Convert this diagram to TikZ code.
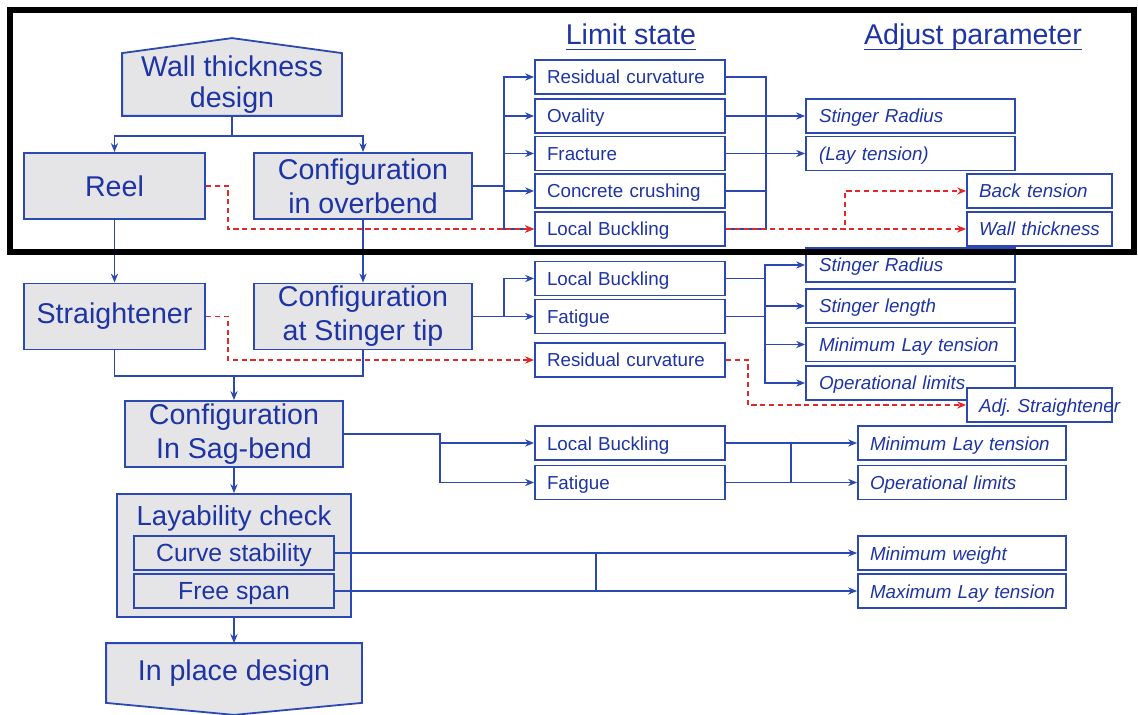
\documentclass[tikz,border=0pt]{standalone}
\usepackage{fontspec}
\setmainfont{Liberation Sans}
\usetikzlibrary{arrows.meta,backgrounds}

\definecolor{txtblue}{RGB}{30,52,165}
\definecolor{edgeblue}{RGB}{44,72,178}
\definecolor{boxgrey}{RGB}{229,229,231}
\definecolor{flagred}{RGB}{228,40,40}

\newcommand{\stagefont}{\fontsize{14.3}{17}\selectfont}
\newcommand{\limitfont}{\fontsize{9.4}{11}\selectfont}
\newcommand{\ulined}[1]{\setbox0\hbox{#1}\rlap{\rule[-2.6pt]{\wd0}{0.7pt}}\box0}

\begin{document}
\begin{tikzpicture}[x=0.5pt, y=-0.5pt, >={Stealth[length=4.5pt,width=3.6pt]},
        stage/.style={rectangle, draw=edgeblue, fill=boxgrey, line width=0.9pt, text=txtblue, font=\stagefont, align=center, minimum width=109pt, minimum height=33pt, inner sep=1pt},
        pentagon/.style={draw=edgeblue, fill=boxgrey, line width=0.9pt},
        check/.style={stage, font=\fontsize{12.4}{14}\selectfont, minimum width=100pt, minimum height=17pt, text height=9.8pt, text depth=1pt},
        limit/.style={rectangle, draw=edgeblue, fill=white, line width=0.9pt, text=txtblue, font=\limitfont, text width=83pt, align=left, inner xsep=6pt, inner ysep=1pt, text height=8pt, text depth=1pt, minimum height=17pt},
        param/.style={limit, font=\limitfont\itshape, text width=91.5pt, inner xsep=6.5pt},
        lowparam/.style={limit, font=\limitfont\itshape, text width=92pt, inner xsep=6pt},
        shortparam/.style={limit, font=\limitfont\itshape, text width=60.5pt},
        heading/.style={text=txtblue, font=\stagefont, anchor=base},
        wire/.style={draw=edgeblue, line width=0.9pt},
        arrow/.style={wire, ->},
        redarrow/.style={->, draw=flagred, line width=0.9pt, dash pattern=on 2.6pt off 1.8pt}]

    \useasboundingbox (0,0) rectangle (1138,715);

    % Headings
    \node[heading] (hlimit) at (631,45) {\ulined{Limit state}};
    \node[heading] (hadjust) at (973,45) {\ulined{Adjust parameter}};

    % Design stages
    \node[stage, draw=none, fill=none, minimum height=30.5pt, inner sep=0.5pt, font=\fontsize{14.3}{15.5}\selectfont] (wall) at (232,84.5) {Wall thickness\\design};
    \node[stage, minimum width=90.5pt] (reel) at (114.5,186) {Reel};
    \node[stage] (ovb) at (363,186) {Configuration\\in overbend};
    \node[stage, minimum width=90.5pt] (strt) at (114.5,316.5) {Straightener};
    \node[stage] (tip) at (363,316.5) {Configuration\\at Stinger tip};
    \node[stage] (sag) at (234,434) {Configuration\\In Sag-bend};
    \node[stage, minimum width=117pt, minimum height=61.5pt] (lay) at (234,555.5) {};
    \node[heading, anchor=center, font=\fontsize{13.8}{16}\selectfont] (laytitle) at (234,518) {Layability check};
    \node[check] (cs) at (234,553) {Curve stability};
    \node[check] (fs) at (234,591) {Free span};
    \node[stage, draw=none, fill=none, minimum width=127pt, minimum height=29pt] (inplace) at (234,673) {In place design};

    \begin{scope}[on background layer]
        \filldraw[pentagon] (wall.south west) -- (wall.north west) -- ([yshift=7.5pt]wall.north) -- (wall.north east) -- (wall.south east) -- cycle;
        \filldraw[pentagon] (inplace.north west) -- (inplace.north east) -- (inplace.south east) -- ([yshift=-6pt]inplace.south) -- (inplace.south west) -- cycle;
    \end{scope}

    % Limit states
    \node[limit] (rc1) at (630,77) {Residual curvature};
    \node[limit] (ov) at (630,116) {Ovality};
    \node[limit] (fr) at (630,153.5) {Fracture};
    \node[limit] (cc) at (630,191) {Concrete crushing};
    \node[limit] (lb1) at (630,229) {Local Buckling};
    \node[limit] (lb2) at (630,278.5) {Local Buckling};
    \node[limit] (fat2) at (630,316.5) {Fatigue};
    \node[limit] (rc2) at (630,360) {Residual curvature};
    \node[limit] (lb3) at (630,443) {Local Buckling};
    \node[limit] (fat3) at (630,482.5) {Fatigue};

    % Parameters
    \node[param] (sr1) at (910.5,116) {Stinger Radius};
    \node[param] (lt) at (910.5,153.5) {(Lay tension)};
    \node[shortparam] (bt) at (1039.5,191) {Back tension};
    \node[shortparam] (wt) at (1039.5,229) {\mbox{Wall thickness}};
    \node[param] (sr2) at (910.5,265) {Stinger Radius};
    \node[param] (sl) at (910.5,306) {Stinger length};
    \node[param] (mlt) at (910.5,344.5) {\mbox{Minimum Lay tension}};
    \node[param] (ol) at (910.5,383) {Operational limits};
    \node[shortparam] (adj) at (1039.5,405) {\mbox{Adj.\ Straightener}};
    \node[lowparam] (mlt2) at (962,443) {\mbox{Minimum Lay tension}};
    \node[lowparam] (ol2) at (962,482.5) {Operational limits};
    \node[lowparam] (mw) at (962,553) {Minimum weight};
    \node[lowparam] (mlt3) at (962,591) {\mbox{Maximum Lay tension}};

    % Main flow
    \draw[arrow] (wall.south) -- ++(0,20) -| (reel);
    \draw[arrow] (wall.south) -- ++(0,20) -| (ovb);
    \draw[arrow] (reel) -- (strt);
    \draw[arrow] (ovb) -- (tip);
    \coordinate (join) at (234,376);
    \draw[wire] (strt.south) |- (join) -| (tip.south);
    \draw[arrow] (join) -- (sag);
    \draw[arrow] (sag) -- (lay);
    \draw[arrow] (lay) -- (inplace);

    % Overbend checks
    \foreach \n in {rc1,ov,fr,cc,lb1}
        \draw[arrow] (ovb.east) -- ++(31,0) |- (\n);
    \draw[wire] (rc1.east) -- ++(40,0) |- (lb1.east);
    \foreach \n in {ov,fr,cc}
        \draw[wire] (\n.east) -- ++(40,0);
    \draw[arrow] (ov) -- (sr1);
    \draw[arrow] (fr) -- (lt);
    \draw[redarrow] (reel.east) -- ++(22,0) |- (lb1);
    \draw[redarrow] (lb1) -- (wt);
    \draw[redarrow] (lb1.east) -- ++(119,0) |- (bt);

    % Stinger tip checks
    \draw[arrow] (tip) -- (fat2);
    \draw[arrow] (tip.east) -- ++(31,0) |- (lb2);
    \coordinate (bus2) at (765,316.5);
    \draw[wire] (lb2.east) -- (lb2.east -| bus2);
    \draw[wire] (fat2) -- (bus2);
    \foreach \n in {sr2,sl,mlt,ol}
        \draw[arrow] (bus2) |- (\n);
    \draw[redarrow] (strt.east) -- ++(22,0) |- (rc2);
    \draw[redarrow] (rc2.east) -- ++(22,0) |- (adj);

    % Sag-bend checks
    \draw[arrow] (sag.east) -- ++(96,0) |- (lb3);
    \draw[arrow] (sag.east) -- ++(96,0) |- (fat3);
    \coordinate (bus3) at (791,463);
    \draw[arrow] (lb3) -- (mlt2);
    \draw[arrow] (fat3) -- (ol2);
    \draw[wire] (lb3 -| bus3) -- (fat3 -| bus3);

    % Layability checks
    \draw[arrow] (cs) -- (mw);
    \draw[arrow] (fs) -- (mlt3);
    \coordinate (bus4) at (596,572);
    \draw[wire] (cs -| bus4) -- (fs -| bus4);

    % Highlight frame
    \draw[line width=3pt] (10,10) rectangle (1134,252);

\end{tikzpicture}
\end{document}
